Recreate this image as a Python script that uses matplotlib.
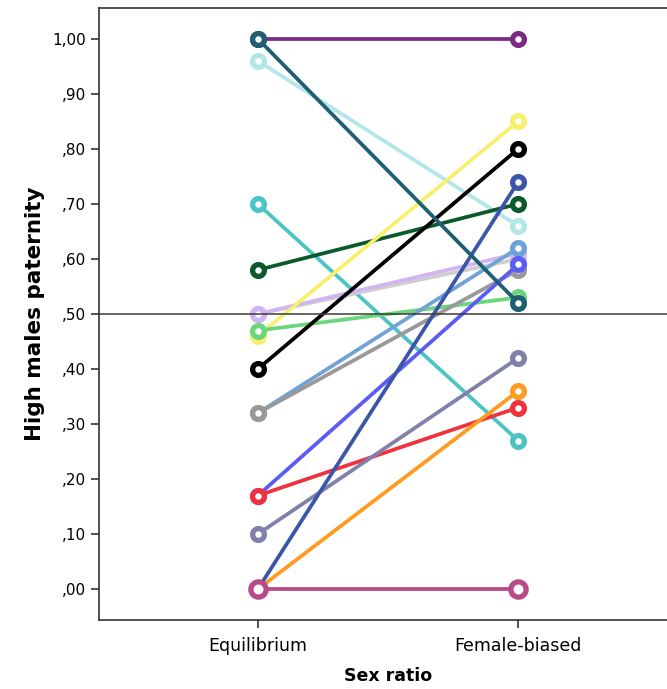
import matplotlib
matplotlib.use("Agg")
import matplotlib.pyplot as plt
import matplotlib.ticker as mticker

# ---------------------------------------------------------------------------
# Data: paternity share under each sex-ratio treatment, one line per group
# ---------------------------------------------------------------------------
CATEGORIES = ["Equilibrium", "Female-biased"]

equilibrium = [1.00, 0.96, 0.70, 0.58, 0.50, 0.50, 0.46, 0.47, 0.40,
               0.32, 0.32, 0.17, 0.17, 0.10, 0.00, 0.00, 0.00, 1.00]
female_biased = [1.00, 0.66, 0.27, 0.70, 0.60, 0.61, 0.85, 0.53, 0.80,
                 0.62, 0.58, 0.59, 0.33, 0.42, 0.74, 0.36, 0.00, 0.52]
colors = ["#7b2a84", "#b3e6e8", "#4cc4c4", "#0b5a2c", "#cfcfcf", "#d3b4f2",
          "#f6f06e", "#6cd67c", "#000000", "#6fa3d8", "#999999", "#5a5cf2",
          "#f0323e", "#8080ac", "#3b55a8", "#ff9b20", "#b94a8a", "#1e5f74"]

Y_TICKS = [0.0, 0.1, 0.2, 0.3, 0.4, 0.5, 0.6, 0.7, 0.8, 0.9, 1.0]


def comma_fmt(v, _pos):
    s = f"{v:.2f}".replace(".", ",")
    return s[1:] if s.startswith("0") else s


fig = plt.figure(figsize=(6.67, 6.89), dpi=100)
ax = fig.add_axes([99 / 667, 69 / 689, 578 / 667, 612 / 689])

x = list(range(len(CATEGORIES)))
for left, right, c in zip(equilibrium, female_biased, colors):
    # the group sitting on the baseline is drawn with a wider ring
    ms = 11 if left == right == 0.0 else 8.5
    ax.plot(x, [left, right], color=c, lw=2.7, marker="o", ms=ms,
            mew=3.8, mfc="white", mec=c, solid_capstyle="round", zorder=3)

ax.axhline(0.5, color="#3a3a3a", lw=1.1, zorder=4)

ax.set_xlim(-0.61, 1.61)
ax.set_ylim(-0.056, 1.056)
ax.set_xticks(x)
ax.set_xticklabels(CATEGORIES, fontsize=12.5)
ax.set_yticks(Y_TICKS)
ax.yaxis.set_major_formatter(mticker.FuncFormatter(comma_fmt))
ax.tick_params(axis="y", labelsize=11, length=6, width=1.2, color="#333333")
ax.tick_params(axis="x", length=6, width=1.2, color="#333333", pad=6)

for sp in ax.spines.values():
    sp.set_color("#333333")
    sp.set_linewidth(1.2)

ax.set_xlabel("Sex ratio", fontsize=12.5, fontweight="bold", labelpad=9)
ax.set_ylabel("High males paternity", fontsize=15.5, fontweight="bold", labelpad=5)

fig.savefig("out.png", dpi=100)
